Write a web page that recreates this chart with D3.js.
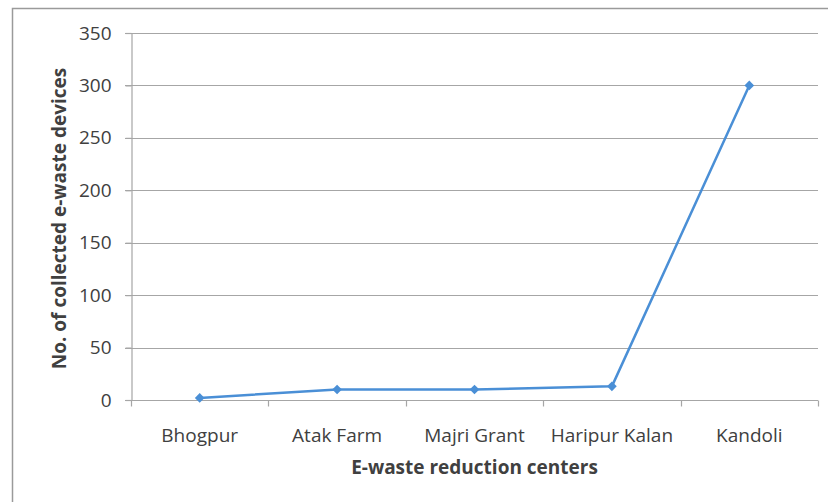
<!DOCTYPE html>
<html>
<head>
<meta charset="utf-8">
<script src="https://cdn.jsdelivr.net/npm/d3@7"></script>
<style>
  html, body { margin: 0; padding: 0; background: #fff; }
  svg { display: block; }
  text { font-family: "Open Sans", "Liberation Sans", sans-serif; fill: #404040; }
</style>
</head>
<body>
<script>
// Collected e-waste devices per reduction center
const centers = ["Bhogpur", "Atak Farm", "Majri Grant", "Haripur Kalan", "Kandoli"];
const devices = [2, 10, 10, 13, 300];
const yTicks = [0, 50, 100, 150, 200, 250, 300, 350];

const W = 828, H = 502;
const margin = { left: 131, right: 10, top: 33, bottom: 102 };

const svg = d3.select("body").append("svg")
  .attr("width", W).attr("height", H);

// chart frame
svg.append("rect")
  .attr("x", 12.5).attr("y", 8.5)
  .attr("width", W).attr("height", H)
  .attr("fill", "#fff").attr("stroke", "#9a9a9a").attr("stroke-width", 1.5);

const x = d3.scaleBand().domain(centers).range([margin.left, W - margin.right]);
const y = d3.scaleLinear().domain([0, 350]).range([H - margin.bottom, margin.top]);

// horizontal gridlines
svg.append("g").selectAll("line").data(yTicks.slice(1)).join("line")
  .attr("x1", margin.left - 6).attr("x2", W - margin.right)
  .attr("y1", d => Math.round(y(d)) + 0.5).attr("y2", d => Math.round(y(d)) + 0.5)
  .attr("stroke", "#a6a6a6").attr("stroke-width", 1.2);

// y axis
const yAxis = svg.append("g")
  .attr("transform", `translate(${margin.left + 0.5},0)`)
  .call(d3.axisLeft(y).tickValues(yTicks).tickSize(6).tickPadding(14));
yAxis.select(".domain").attr("stroke", "#a6a6a6").attr("stroke-width", 1.2);
yAxis.selectAll(".tick line").attr("stroke", "#a6a6a6").attr("stroke-width", 1.2);
yAxis.selectAll(".tick text").attr("font-size", 19).attr("fill", "#404040")
  .attr("font-family", "Open Sans, sans-serif");

// x axis with ticks at band boundaries
const xAxisG = svg.append("g")
  .attr("transform", `translate(0,${Math.round(y(0)) + 0.5})`);
xAxisG.append("line")
  .attr("x1", margin.left - 6).attr("x2", W - margin.right)
  .attr("stroke", "#a6a6a6").attr("stroke-width", 1.2);
const bounds = centers.map(c => x(c)).concat([x(centers[centers.length - 1]) + x.bandwidth()]);
xAxisG.selectAll("line.tk").data(bounds).join("line").attr("class", "tk")
  .attr("x1", d => Math.round(d) + 0.5).attr("x2", d => Math.round(d) + 0.5)
  .attr("y1", 0).attr("y2", 6)
  .attr("stroke", "#a6a6a6").attr("stroke-width", 1.2);
xAxisG.selectAll("text").data(centers).join("text")
  .attr("x", d => x(d) + x.bandwidth() / 2)
  .attr("y", 41)
  .attr("text-anchor", "middle")
  .attr("font-size", 19)
  .text(d => d);

// axis titles
svg.append("text")
  .attr("x", (margin.left + W - margin.right) / 2)
  .attr("y", 474)
  .attr("text-anchor", "middle")
  .attr("font-size", 19).attr("font-weight", "bold").attr("fill", "#262626")
  .text("E-waste reduction centers");

svg.append("text")
  .attr("transform", `translate(66,${(33 + 400) / 2 + 2}) rotate(-90)`)
  .attr("text-anchor", "middle")
  .attr("font-size", 19).attr("font-weight", "bold").attr("fill", "#262626")
  .text("No. of collected e-waste devices");

// series line and diamond markers
const cx = d => x(d) + x.bandwidth() / 2;
const pts = centers.map((c, i) => [cx(c), y(devices[i])]);
svg.append("path")
  .attr("d", d3.line()(pts))
  .attr("fill", "none").attr("stroke", "#4a8fd6").attr("stroke-width", 2.5)
  .attr("stroke-linejoin", "round");
svg.append("g").selectAll("path").data(pts).join("path")
  .attr("transform", d => `translate(${d[0]},${d[1]})`)
  .attr("d", d3.symbol().type(d3.symbolDiamond2).size(60))
  .attr("fill", "#4a8fd6");
</script>
</body>
</html>
